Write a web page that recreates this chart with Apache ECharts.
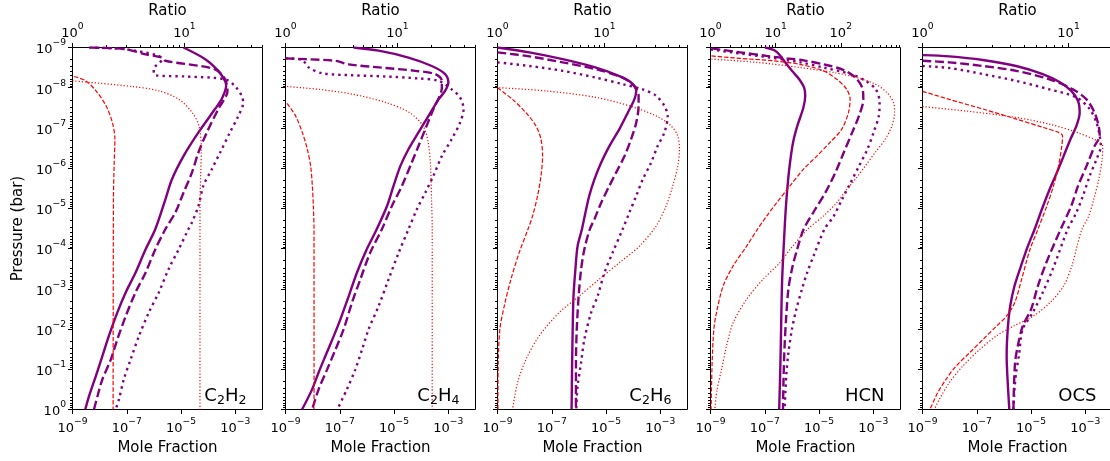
<!DOCTYPE html>
<html>
<head>
<meta charset="utf-8">
<script src="https://cdn.jsdelivr.net/npm/echarts@6.0.0/dist/echarts.min.js"></script>
<style>html,body{margin:0;padding:0;background:#fff}#c{width:1110px;height:461px}</style>
</head>
<body>
<div id="c"></div>
<script>
// ---------------- data ----------------
const species = ['C2H2', 'C2H4', 'C2H6', 'HCN', 'OCS'];
const ratioMax = [50, 50, 60, 825, 20];
// tick exponents (labels read as 10^n)
const moleFractionTickExp = [-9, -7, -5, -3];
const pressureTickExp = [-9, -8, -7, -6, -5, -4, -3, -2, -1, 0];
const ratioTickExp = [[0, 1], [0, 1], [0, 1], [0, 1, 2], [0, 1]];

// [mole fraction, pressure (bar)]
const c2h2Solid = [[1.23e-5,1e-9],[7.76e-5,1.95e-9],[2.34e-4,3.80e-9],[4.17e-4,6.76e-9],[4.57e-4,9.12e-9],[3.09e-4,1.95e-8],[1.78e-4,3.39e-8],[4.37e-5,1.29e-7],[1.23e-5,5.01e-7],[4.57e-6,1.91e-6],[2.63e-6,6.03e-6],[1.12e-6,3.31e-5],[4.90e-7,1.05e-4],[2.09e-7,3.98e-4],[9.12e-8,1.23e-3],[4.47e-8,3.89e-3],[2.19e-8,1.48e-2],[1.26e-8,4.68e-2],[7.24e-9,0.148],[4.07e-9,0.468],[2.95e-9,1]];
const c2h2Dashed = [[4.68e-9,1e-9],[9.12e-8,1.10e-9],[4.90e-7,1.48e-9],[2.00e-6,1.78e-9],[2.63e-6,2.14e-9],[1.78e-4,3.47e-9],[4.17e-4,6.17e-9],[5.13e-4,1.20e-8],[2.34e-4,3.39e-8],[8.91e-5,1.29e-7],[4.37e-5,4.07e-7],[2.51e-5,1.29e-6],[1.23e-5,4.07e-6],[6.17e-6,1.26e-5],[2.63e-6,3.31e-5],[1.12e-6,1.05e-4],[4.90e-7,3.98e-4],[2.09e-7,1.23e-3],[9.12e-8,4.79e-3],[4.47e-8,1.82e-2],[2.57e-8,5.75e-2],[1.26e-8,0.178],[8.32e-9,0.468],[6.17e-9,1]];
const c2h2Dotted = [[4.07e-9,1e-9],[7.76e-8,1.10e-9],[1.29e-6,1.55e-9],[2.00e-6,1.95e-9],[9.77e-7,3.47e-9],[1.12e-6,4.90e-9],[1.41e-5,5.25e-9],[4.17e-4,6.17e-9],[9.77e-4,9.12e-9],[1.70e-3,1.58e-8],[1.95e-3,2.34e-8],[1.29e-3,5.01e-8],[6.31e-4,1.29e-7],[2.75e-4,4.07e-7],[1.35e-4,1.07e-6],[6.61e-5,2.75e-6],[4.37e-5,8.71e-6],[2.51e-5,2.24e-5],[1.86e-5,3.31e-5],[8.13e-6,1.05e-4],[3.47e-6,3.24e-4],[1.51e-6,1.23e-3],[6.46e-7,3.89e-3],[2.82e-7,1.48e-2],[1.38e-7,5.75e-2],[7.76e-8,0.178],[5.13e-8,0.562],[3.89e-8,1]];
// [ratio, pressure (bar)]
const c2h2RatioDashed = [[1.035,5.25e-9],[1.318,6.76e-9],[1.622,1.20e-8],[1.995,2.82e-8],[2.275,7.41e-8],[2.393,1.91e-7],[2.355,8.91e-7],[2.323,6.03e-6],[2.307,1]];
const c2h2RatioDotted = [[1.0,6.76e-9],[3.436,9.33e-9],[5.94,1.20e-8],[8.97,1.95e-8],[11.78,4.17e-8],[13.52,8.91e-8],[14.19,3.39e-7],[14.0,1.55e-6],[13.8,8.71e-6],[13.8,1]];

const c2h4Solid = [[3.24e-7,1e-9],[2.69e-6,1.20e-9],[3.39e-5,1.78e-9],[2.45e-4,2.88e-9],[7.59e-4,4.57e-9],[1.0e-3,7.41e-9],[7.59e-4,1.20e-8],[4.37e-4,1.95e-8],[1.86e-4,5.01e-8],[7.94e-5,1.29e-7],[3.39e-5,3.39e-7],[1.70e-5,8.91e-7],[9.55e-6,2.75e-6],[5.50e-6,8.71e-6],[2.29e-6,3.31e-5],[9.77e-7,1.05e-4],[4.27e-7,3.98e-4],[2.14e-7,1.51e-3],[1.05e-7,5.75e-3],[6.03e-8,1.48e-2],[2.95e-8,4.68e-2],[1.66e-8,0.120],[9.55e-9,0.316],[4.07e-9,1]];
const c2h4Dashed = [[1e-9,1.86e-9],[5.50e-9,1.95e-9],[6.92e-8,2.14e-9],[2.14e-7,2.63e-9],[3.55e-6,3.16e-9],[6.03e-5,3.80e-9],[3.24e-4,4.57e-9],[5.75e-4,6.76e-9],[5.75e-4,1e-8],[2.82e-4,3.39e-8],[1.41e-4,1.07e-7],[7.94e-5,2.82e-7],[4.47e-5,7.24e-7],[1.95e-5,2.75e-6],[8.32e-6,8.71e-6],[3.55e-6,3.31e-5],[1.32e-6,1.26e-4],[5.75e-7,5.75e-4],[2.82e-7,2.19e-3],[1.38e-7,1.02e-2],[6.92e-8,3.24e-2],[3.39e-8,0.102],[1.66e-8,0.316],[9.55e-9,1]];
const c2h4Dotted = [[1e-9,1.86e-9],[4.07e-9,2.04e-9],[7.24e-9,3.16e-9],[2.24e-8,4.37e-9],[2.82e-7,4.90e-9],[4.79e-6,5.25e-9],[7.94e-5,5.89e-9],[4.37e-4,6.76e-9],[1.32e-3,1.10e-8],[2.69e-3,1.74e-8],[3.63e-3,3.39e-8],[2.69e-3,7.41e-8],[1.32e-3,1.91e-7],[5.75e-4,5.01e-7],[2.82e-4,1.55e-6],[1.41e-4,4.07e-6],[6.92e-5,1.05e-5],[3.39e-5,3.31e-5],[1.48e-5,1.26e-4],[6.31e-6,5.75e-4],[2.69e-6,2.69e-3],[1.15e-6,1.02e-2],[6.61e-7,3.24e-2],[3.72e-7,0.102],[1.82e-7,0.316],[8.13e-8,1]];
const c2h4RatioDashed = [[1.033,2.45e-8],[1.230,5.01e-8],[1.413,1.29e-7],[1.567,3.39e-7],[1.679,8.91e-7],[1.738,2.75e-6],[1.774,8.71e-6],[1.799,3.31e-5],[1.80,1]];
const c2h4RatioDotted = [[1.033,9.33e-9],[1.995,1.10e-8],[3.98,1.45e-8],[7.94,2.34e-8],[12.88,4.17e-8],[16.98,8.91e-8],[18.88,2.29e-7],[19.82,8.91e-7],[20.23,6.03e-6],[20.51,3.31e-5],[20.5,1]];

const c2h6Solid = [[1e-9,1e-9],[1.48e-8,1.32e-9],[2.51e-7,1.95e-9],[4.27e-6,3.16e-9],[3.09e-5,5.13e-9],[8.32e-5,7.41e-9],[1.29e-4,1.20e-8],[1.10e-4,1.95e-8],[6.31e-5,4.17e-8],[3.09e-5,1.07e-7],[1.32e-5,2.82e-7],[6.61e-6,7.24e-7],[3.72e-6,1.91e-6],[2.40e-6,4.90e-6],[1.74e-6,1.26e-5],[1.29e-6,3.31e-5],[8.91e-7,8.71e-5],[7.41e-7,3.31e-4],[6.31e-7,1.51e-3],[5.89e-7,1.02e-2],[5.62e-7,6.92e-2],[5.37e-7,1]];
const c2h6Dashed = [[1e-9,1.32e-9],[1.48e-8,1.66e-9],[2.51e-7,2.34e-9],[4.27e-6,3.47e-9],[4.07e-5,5.62e-9],[1.10e-4,9.12e-9],[1.58e-4,1.58e-8],[1.58e-4,2.82e-8],[1.29e-4,7.41e-8],[8.32e-5,1.91e-7],[4.79e-5,5.01e-7],[2.34e-5,1.29e-6],[1.32e-5,2.75e-6],[6.61e-6,7.24e-6],[3.72e-6,1.86e-5],[2.51e-6,3.31e-5],[1.58e-6,1.05e-4],[1.20e-6,3.31e-4],[9.77e-7,1.51e-3],[8.32e-7,1.02e-2],[7.76e-7,6.92e-2],[7.76e-7,1]];
const c2h6Dotted = [[1e-9,2.34e-9],[1.48e-8,2.88e-9],[2.51e-7,3.80e-9],[4.27e-6,5.62e-9],[4.07e-5,8.13e-9],[2.24e-4,1.10e-8],[6.92e-4,1.58e-8],[1.41e-3,2.82e-8],[1.86e-3,5.01e-8],[1.41e-3,1.29e-7],[7.94e-4,2.82e-7],[4.57e-4,7.24e-7],[2.24e-4,1.91e-6],[1.29e-4,4.90e-6],[7.24e-5,1.26e-5],[4.07e-5,3.31e-5],[1.74e-5,1.26e-4],[8.71e-6,3.98e-4],[4.90e-6,1.51e-3],[2.82e-6,3.89e-3],[1.58e-6,1.82e-2],[1.20e-6,6.92e-2],[8.91e-7,0.263],[7.94e-7,1]];
const c2h6RatioDashed = [[1.0,1e-8],[1.380,1.95e-8],[1.845,4.17e-8],[2.291,8.91e-8],[2.553,1.91e-7],[2.642,5.01e-7],[2.553,1.55e-6],[2.371,4.90e-6],[2.128,1.55e-5],[1.928,3.31e-5],[1.596,1.26e-4],[1.337,5.75e-4],[1.156,2.69e-3],[1.052,1.02e-2],[1.016,6.92e-2],[1.009,1]];
const c2h6RatioDotted = [[1.04,1e-8],[2.844,1.20e-8],[8.36,1.74e-8],[17.14,2.82e-8],[30.48,5.01e-8],[42.17,8.91e-8],[48.64,1.58e-7],[50.47,3.39e-7],[48.64,8.91e-7],[43.65,2.75e-6],[37.84,8.71e-6],[30.48,2.75e-5],[21.28,8.71e-5],[13.80,2.24e-4],[8.97,5.75e-4],[5.83,1.51e-3],[3.78,3.89e-3],[2.455,1.48e-2],[1.845,5.75e-2],[1.538,0.219],[1.384,1]];

const hcnSolid = [[1.02e-7,1e-9],[2.40e-7,1.20e-9],[3.80e-7,1.62e-9],[5.62e-7,2.34e-9],[1.0e-6,3.80e-9],[1.91e-6,6.31e-9],[2.82e-6,1e-8],[3.09e-6,1.58e-8],[2.63e-6,3.16e-8],[1.58e-6,8.91e-8],[1.10e-6,2.29e-7],[8.51e-7,7.24e-7],[7.08e-7,2.29e-6],[6.03e-7,8.71e-6],[5.37e-7,3.31e-5],[4.37e-7,5.75e-4],[3.98e-7,1.02e-2],[3.72e-7,0.102],[3.39e-7,1]];
const hcnDashed = [[1.10e-9,1.05e-9],[1.23e-8,1.32e-9],[1.17e-7,1.62e-9],[6.46e-7,1.86e-9],[2.69e-6,2.09e-9],[1.48e-5,2.63e-9],[8.13e-5,3.63e-9],[2.19e-4,5.62e-9],[3.89e-4,1e-8],[4.27e-4,1.95e-8],[2.95e-4,5.01e-8],[1.66e-4,1.29e-7],[8.13e-5,4.07e-7],[3.98e-5,1.29e-6],[1.70e-5,4.07e-6],[7.24e-6,1.05e-5],[2.69e-6,3.31e-5],[1.55e-6,1.05e-4],[1.0e-6,3.24e-4],[7.41e-7,1.02e-3],[6.17e-7,4.79e-3],[5.37e-7,2.63e-2],[4.90e-7,0.178],[4.68e-7,1]];
const hcnDotted = [[1.02e-9,1.12e-9],[1.23e-8,1.41e-9],[1.58e-7,1.78e-9],[2.04e-6,2.34e-9],[1.48e-5,3.16e-9],[1.45e-4,4.57e-9],[5.25e-4,6.76e-9],[1.23e-3,1.10e-8],[1.70e-3,2.29e-8],[1.58e-3,5.13e-8],[1.02e-3,1.29e-7],[6.03e-4,3.39e-7],[2.95e-4,8.91e-7],[1.45e-4,2.29e-6],[7.08e-5,5.89e-6],[3.47e-5,1.55e-5],[1.58e-5,3.31e-5],[6.31e-6,1.51e-4],[3.63e-6,3.98e-4],[2.34e-6,1.02e-3],[1.45e-6,3.24e-3],[1.0e-6,1.02e-2],[7.41e-7,3.89e-2],[6.17e-7,0.148],[5.37e-7,1]];
const hcnRatioDashed = [[1.035,1.62e-9],[2.818,1.86e-9],[9.18,2.14e-9],[23.66,2.63e-9],[53.95,3.80e-9],[86.7,6.17e-9],[123.6,1.10e-8],[139.0,1.95e-8],[130.9,4.17e-8],[103.5,1.07e-7],[68.4,2.29e-7],[42.8,5.01e-7],[26.6,1.07e-6],[16.6,2.75e-6],[10.35,7.24e-6],[7.28,1.55e-5],[5.25,3.31e-5],[3.58,8.71e-5],[2.228,2.69e-4],[1.563,8.51e-4],[1.236,3.89e-3],[1.125,1.02e-2],[1.059,6.92e-2],[1.021,1]];
const hcnRatioDotted = [[1.035,1.95e-9],[5.11,2.34e-9],[23.66,3.16e-9],[76.9,4.17e-9],[176.2,5.62e-9],[337.3,8.13e-9],[510.5,1.32e-8],[644.2,2.34e-8],[668.3,4.17e-8],[609.5,8.91e-8],[480.8,1.91e-7],[337.3,4.07e-7],[236.6,8.91e-7],[166.0,1.91e-6],[123.6,3.39e-6],[86.7,7.24e-6],[53.95,1.55e-5],[30.9,3.31e-5],[16.6,1.05e-4],[11.64,2.24e-4],[6.44,5.75e-4],[3.58,1.82e-3],[2.228,6.92e-3],[1.762,2.63e-2],[1.476,0.102],[1.265,0.316],[1.164,1]];

const ocsSolid = [[1e-9,1.55e-9],[9.77e-9,1.66e-9],[1.66e-7,2.04e-9],[2.82e-6,2.88e-9],[2.69e-5,4.57e-9],[1.12e-4,7.24e-9],[3.02e-4,1.20e-8],[5.37e-4,2.14e-8],[6.17e-4,4.17e-8],[4.68e-4,8.91e-8],[2.82e-4,1.91e-7],[1.58e-4,5.01e-7],[8.91e-5,1.29e-6],[4.79e-5,3.39e-6],[2.51e-5,1.05e-5],[1.35e-5,3.31e-5],[7.59e-6,8.71e-5],[4.27e-6,2.69e-4],[2.45e-6,8.51e-4],[1.70e-6,2.69e-3],[1.38e-6,1.02e-2],[1.26e-6,4.68e-2],[1.38e-6,0.214],[1.58e-6,1]];
const ocsDashed = [[1e-9,2.14e-9],[9.77e-9,2.34e-9],[1.66e-7,2.88e-9],[2.82e-6,3.80e-9],[4.79e-5,6.17e-9],[3.47e-4,1.10e-8],[1.10e-3,1.95e-8],[2.19e-3,4.17e-8],[3.09e-3,8.91e-8],[3.39e-3,1.58e-7],[2.19e-3,2.82e-7],[1.10e-3,8.91e-7],[5.37e-4,2.75e-6],[3.02e-4,8.71e-6],[1.23e-4,3.31e-5],[3.63e-5,2.24e-4],[1.78e-5,8.51e-4],[1.0e-5,3.24e-3],[4.90e-6,8.51e-3],[3.24e-6,2.63e-2],[2.57e-6,6.92e-2],[2.29e-6,0.468],[2.24e-6,1]];
const ocsDotted = [[1e-9,2.88e-9],[9.77e-9,3.24e-9],[1.66e-7,4.57e-9],[2.82e-6,6.76e-9],[4.79e-5,1.10e-8],[4.68e-4,1.74e-8],[1.45e-3,3.39e-8],[2.57e-3,7.41e-8],[3.39e-3,1.58e-7],[3.72e-3,2.82e-7],[2.57e-3,6.03e-7],[1.45e-3,1.55e-6],[8.13e-4,4.90e-6],[4.68e-4,1.26e-5],[2.24e-4,3.31e-5],[6.31e-5,3.24e-4],[2.69e-5,1.23e-3],[1.15e-5,3.89e-3],[4.90e-6,1.02e-2],[3.55e-6,4.68e-2],[2.82e-6,0.120],[2.45e-6,0.316],[2.24e-6,1]];
const ocsRatioDashed = [[1.0,1.23e-8],[1.528,1.95e-8],[2.594,3.39e-8],[4.406,6.03e-8],[6.73,9.77e-8],[8.53,1.29e-7],[9.10,1.58e-7],[8.99,2.82e-7],[8.53,8.91e-7],[7.89,2.75e-6],[7.10,8.71e-6],[6.17,3.31e-5],[5.445,1.05e-4],[4.775,5.75e-4],[4.285,2.19e-3],[3.758,4.79e-3],[3.206,8.51e-3],[2.594,1.82e-2],[2.099,3.89e-2],[1.698,8.32e-2],[1.449,0.178],[1.268,0.389],[1.125,1]];
const ocsRatioDotted = [[1.0,2.95e-8],[1.991,3.80e-8],[4.406,5.50e-8],[7.48,8.13e-8],[11.43,1.29e-7],[15.70,2.09e-7],[17.14,2.82e-7],[16.98,6.03e-7],[16.11,1.91e-6],[14.86,6.03e-6],[13.74,1.55e-5],[12.36,3.31e-5],[11.43,8.71e-5],[10.54,2.69e-4],[9.25,8.51e-4],[7.48,2.19e-3],[5.74,4.79e-3],[4.18,8.51e-3],[3.206,1.48e-2],[2.46,3.24e-2],[1.888,8.32e-2],[1.528,0.214],[1.303,0.562],[1.205,1]];

const panels = [
  { purple: [c2h2Solid, c2h2Dashed, c2h2Dotted], red: [c2h2RatioDashed, c2h2RatioDotted] },
  { purple: [c2h4Solid, c2h4Dashed, c2h4Dotted], red: [c2h4RatioDashed, c2h4RatioDotted] },
  { purple: [c2h6Solid, c2h6Dashed, c2h6Dotted], red: [c2h6RatioDashed, c2h6RatioDotted] },
  { purple: [hcnSolid, hcnDashed, hcnDotted], red: [hcnRatioDashed, hcnRatioDotted] },
  { purple: [ocsSolid, ocsDashed, ocsDotted], red: [ocsRatioDashed, ocsRatioDotted] }
];

// ---------------- layout / style ----------------
const FONT = 'DejaVu Sans';
const panelLeft = [72.5, 285.5, 497.5, 710.5, 922.5];
const panelTop = 47.5, panelW = 190, panelH = 362;
const purple = '#800080', red = '#ff0000';
const purpleStyles = [
  { color: purple, width: 2.4, type: 'solid' },
  { color: purple, width: 2.4, type: [8.8, 3.8] },
  { color: purple, width: 2.4, type: [2.4, 4.0] }
];
const redStyles = [
  { color: red, width: 1.2, type: [4.4, 1.9] },
  { color: red, width: 1.2, type: [1.2, 2.0] }
];
const tickRich = {
  b: { fontFamily: FONT, fontSize: 13, color: '#000', verticalAlign: 'bottom' },
  s: { fontFamily: FONT, fontSize: 9.2, color: '#000', verticalAlign: 'top', padding: [0, 0, 9, 0] }
};
function pow10Label(e) {
  return '{b|10}{s|' + (e < 0 ? '\u2212' + (-e) : String(e)) + '}';
}
function minorExps(lo, hi) {
  const out = [];
  for (let n = Math.floor(lo); n < hi; n++) {
    for (let k = 2; k < 10; k++) {
      const v = n + Math.log10(k);
      if (v > lo + 1e-9 && v <= hi + 1e-9) out.push(v);
    }
  }
  return out;
}
function helperAxis(o) {
  return {
    type: 'value', gridIndex: o.gridIndex, position: o.position, inverse: !!o.inverse,
    min: o.min, max: o.max, silent: true,
    axisLine: { show: false, onZero: false },
    splitLine: { show: false },
    axisTick: { show: true, inside: false, length: o.len, customValues: o.ticks, lineStyle: { color: '#000', width: 1 } },
    axisLabel: o.labels ? {
      show: true, customValues: o.labels, margin: o.margin, color: '#000', fontFamily: FONT,
      formatter: v => pow10Label(Math.round(v)), rich: tickRich
    } : { show: false },
    name: o.name || '', nameLocation: 'middle', nameGap: o.nameGap || 0, nameMoveOverlap: false,
    nameTextStyle: { fontFamily: FONT, fontSize: 15, color: '#000' }
  };
}
function speciesText(s) {
  return s.replace(/([A-Z][a-z]?)|(\d+)/g, (m, el, num) => el ? '{m|' + el + '}' : '{u|' + num + '}');
}
const speciesRich = {
  m: { fontFamily: FONT, fontSize: 18, fill: '#000', verticalAlign: 'top' },
  u: { fontFamily: FONT, fontSize: 12.6, fill: '#000', verticalAlign: 'top', padding: [7, 0, 0, 0] }
};

const grid = [], xAxis = [], yAxis = [], series = [], graphic = [];
panels.forEach((p, i) => {
  const L = panelLeft[i];
  grid.push({ left: L, top: panelTop, width: panelW, height: panelH, show: true,
    borderColor: '#000', borderWidth: 1, backgroundColor: 'rgba(0,0,0,0)', outerBoundsMode: 'none', containLabel: false });
  const xb = xAxis.length;
  xAxis.push({ type: 'log', logBase: 10, gridIndex: i, position: 'bottom', min: 1e-9, max: 1e-2, show: false });
  const xt = xAxis.length;
  xAxis.push({ type: 'log', logBase: 10, gridIndex: i, position: 'top', min: 1, max: ratioMax[i], show: false });
  const yl = yAxis.length;
  yAxis.push({ type: 'log', logBase: 10, gridIndex: i, position: 'left', inverse: true, min: 1e-9, max: 1, show: false });

  const rTop = Math.log10(ratioMax[i]);
  xAxis.push(helperAxis({ gridIndex: i, position: 'bottom', min: -9, max: -2, ticks: moleFractionTickExp,
    labels: moleFractionTickExp, len: 4.5, margin: 7.3, name: 'Mole Fraction', nameGap: 31.5 }));
  xAxis.push(helperAxis({ gridIndex: i, position: 'top', min: 0, max: rTop, ticks: ratioTickExp[i],
    labels: ratioTickExp[i], len: 4.5, margin: 7.7, name: 'Ratio', nameGap: 29 }));
  xAxis.push(helperAxis({ gridIndex: i, position: 'top', min: 0, max: rTop, ticks: minorExps(0, rTop), labels: null, len: 2.5 }));
  yAxis.push(helperAxis({ gridIndex: i, position: 'left', inverse: true, min: -9, max: 0, ticks: pressureTickExp,
    labels: i === 0 ? pressureTickExp : null, len: 4.5, margin: 6.5,
    name: i === 0 ? 'Pressure (bar)' : '', nameGap: 46.7 }));
  yAxis.push(helperAxis({ gridIndex: i, position: 'left', inverse: true, min: -9, max: 0, ticks: minorExps(-9, 0), labels: null, len: 2.5 }));

  p.purple.forEach((d, k) => series.push({
    type: 'line', xAxisIndex: xb, yAxisIndex: yl, data: d, symbol: 'none', showSymbol: false,
    smooth: 0.3, clip: true, silent: true, animation: false, z: 2, lineStyle: purpleStyles[k]
  }));
  p.red.forEach((d, k) => series.push({
    type: 'line', xAxisIndex: xt, yAxisIndex: yl, data: d, symbol: 'none', showSymbol: false,
    smooth: 0.3, clip: true, silent: true, animation: false, z: 3, lineStyle: redStyles[k]
  }));

  graphic.push({ type: 'text', x: L + panelW - 16, y: 387.7, silent: true, z: 10,
    style: { text: speciesText(species[i]), align: 'right', verticalAlign: 'top', rich: speciesRich } });
});

const chart = echarts.init(document.getElementById('c'), null, { renderer: 'canvas' });
chart.setOption({
  animation: false,
  backgroundColor: '#fff',
  textStyle: { fontFamily: FONT },
  grid, xAxis, yAxis, series, graphic
});
</script>
</body>
</html>
